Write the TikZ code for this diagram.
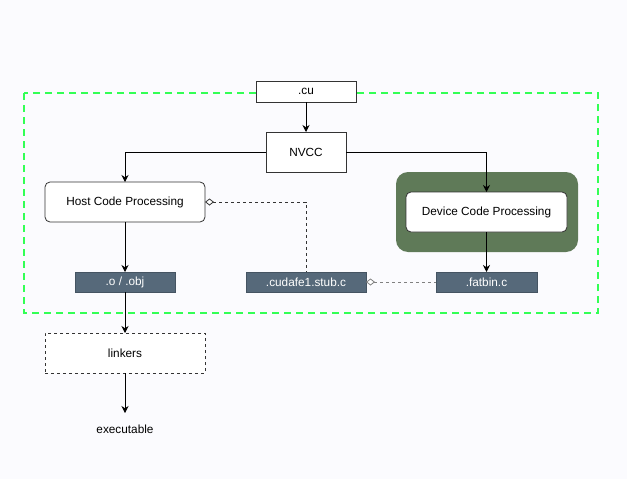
\documentclass[tikz,border=0pt]{standalone}
\usepackage{fontspec}
\setmainfont{Liberation Sans}
\usetikzlibrary{arrows.meta}
\definecolor{bg}{HTML}{FBFBFE}
\definecolor{grp}{HTML}{33FF55}
\definecolor{slate}{HTML}{56697A}
\definecolor{dgreen}{HTML}{5F7A58}
\definecolor{bord}{HTML}{333333}
\begin{document}
\begin{tikzpicture}[x=1pt,y=-1pt,
  every node/.style={font=\fontsize{11.8}{14}\selectfont, inner sep=0pt, outer sep=0pt},
  plainbox/.style={draw=bord, fill=white, line width=0.8pt},
  roundbox/.style={draw=bord, fill=white, rounded corners=5pt, line width=0.8pt},
  filebox/.style={draw=slate!80!black, fill=slate, text=white, line width=0.8pt},
  arr/.style={-{Stealth[length=7pt,width=7pt]}, line width=0.8pt, black},
  dia/.style={{Diamond[open,length=9pt,width=7pt,fill=white]}-, line width=0.8pt, dashed, dash pattern=on 3pt off 3pt}
]
\useasboundingbox[fill=bg] (0,0) rectangle (627,479);
% group
\draw[grp, line width=2pt, dash pattern=on 7pt off 5pt] (24,93) rectangle (598,313);
% device background
\fill[dgreen, rounded corners=12pt] (396,172) rectangle (578,252);

\node[plainbox, minimum width=100pt, minimum height=21pt] (cu) at (306,91.5) {.cu};
\node[plainbox, minimum width=80pt, minimum height=40pt] (nvcc) at (306,152) {NVCC};
\node[roundbox, minimum width=160pt, minimum height=40pt] (host) at (125,202) {Host Code Processing};
\node[roundbox, minimum width=161pt, minimum height=40pt] (dev) at (486.5,212) {Device Code Processing};
\node[filebox, minimum width=100pt, minimum height=20pt] (obj) at (125,282) {.o / .obj};
\node[filebox, minimum width=120pt, minimum height=20pt] (stub) at (306,282) {.cudafe1.stub.c};
\node[filebox, minimum width=101pt, minimum height=20pt] (fat) at (486.5,282) {.fatbin.c};
\node[draw=bord, dashed, dash pattern=on 3pt off 3pt, fill=white, line width=0.8pt, minimum width=160pt, minimum height=40pt] (link) at (125,353) {linkers};
\node (exe) at (125,429) {executable};
\coordinate (exetop) at (125,413);

\draw[arr] (cu) -- (nvcc);
\draw[arr] (nvcc.west) -| (host.north);
\draw[arr] (nvcc.east) -| (dev.north);
\draw[arr] (host) -- (obj);
\draw[arr] (dev) -- (fat);
\draw[arr] (obj) -- (link);
\draw[arr] (link) -- (exetop);
\draw[dia, bord] (host.east) -| (stub.north);
\draw[dia, gray] (stub.east) -- (fat.west);
\end{tikzpicture}
\end{document}
